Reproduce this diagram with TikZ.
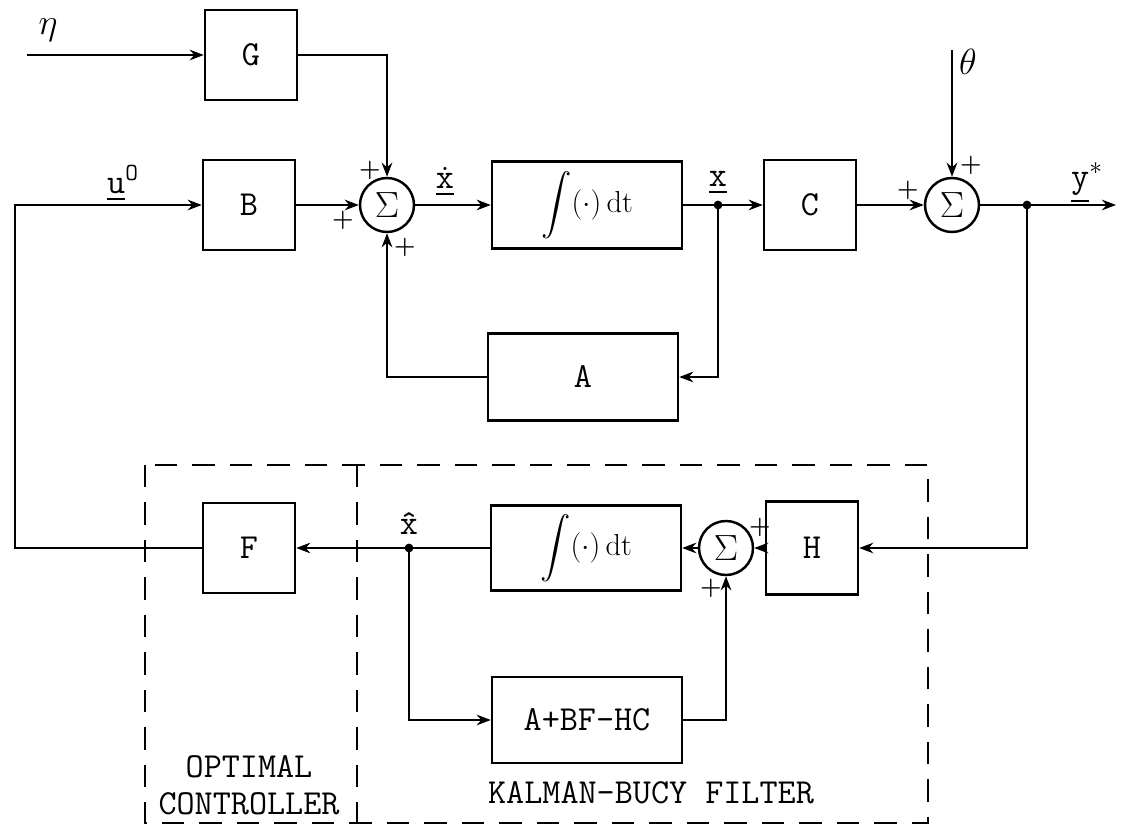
\documentclass[tikz,border=0pt]{standalone}
\usepackage{amsmath}
\usetikzlibrary{arrows.meta, positioning}

\begin{document}
\begin{tikzpicture}[
    x=0.02cm, y=-0.02cm,
    blk/.style={draw, line width=1.4pt, minimum width=1.84cm, minimum height=1.8cm, font=\fontsize{20}{22}\selectfont\ttfamily},
    wide/.style={blk, minimum width=3.8cm, minimum height=1.74cm},
    intg/.style={wide, font=\fontsize{16}{18}\selectfont},
    sum/.style={draw, circle, line width=1.4pt, minimum size=1.08cm, inner sep=0pt, font=\fontsize{22}{24}\selectfont},
    arr/.style={-{Stealth[length=8pt, width=6pt]}, line width=1.4pt},
    ln/.style={line width=1.4pt},
    sgn/.style={font=\fontsize{14}{14}\selectfont\bfseries, inner sep=0pt},
    lbl/.style={font=\fontsize{20}{21}\selectfont\ttfamily, inner sep=1pt},
    grp/.style={line width=1.5pt, dash pattern=on 0.45cm off 0.3cm}
]
\useasboundingbox (0,0) rectangle (1123,827);

% plant
\node[blk] (G) at (251,55) {G};
\node[blk] (B) at (249,205) {B};
\node[sum] (s1) at (387,205) {$\Sigma$};
\node[intg] (int1) at (587,205) {$\displaystyle\int(\cdot)\,\mathrm{dt}$};
\node[blk] (C) at (810,205) {C};
\node[sum] (s2) at (952,205) {$\Sigma$};
\node[wide] (A) at (583,377) {A};

% controller and filter
\node[blk] (F) at (249,548) {F};
\node[intg, minimum height=1.7cm] (int2) at (586,548) {$\displaystyle\int(\cdot)\,\mathrm{dt}$};
\node[sum] (s3) at (726,548) {$\Sigma$};
\node[blk, minimum height=1.86cm] (H) at (812,548) {H};
\node[wide, minimum height=1.72cm] (kf) at (587,720) {A+BF-HC};

\coordinate (etain) at (27,55);
\coordinate (thin) at (952,50);
\coordinate (yout) at (1116,205);
\coordinate (ul) at (15,205);
\coordinate (xj) at (718,205);
\coordinate (yj) at (1027,205);
\coordinate (xh) at (409,548);

\draw[arr] (etain) -- (G);
\draw[arr] (G.east) -| (s1.north);
\draw[arr] (F.west) -| (ul) -- (B.west);
\draw[arr] (B) -- (s1);
\draw[arr] (s1) -- (int1);
\draw[ln] (int1) -- (xj);
\draw[arr] (xj) -- (C);
\draw[arr] (xj) |- (A.east);
\draw[arr] (A.west) -| (s1.south);
\draw[arr] (C) -- (s2);
\draw[arr] (thin) -- (s2);
\draw[ln] (s2) -- (yj);
\draw[arr] (yj) -- (yout);
\draw[arr] (yj) |- (H.east);
\draw[arr] (H) -- (s3);
\draw[arr] (s3) -- (int2);
\draw[ln] (int2) -- (xh);
\draw[arr] (xh) -- (F);
\draw[arr] (xh) |- (kf.west);
\draw[arr] (kf.east) -| (s3.south);

\fill (xj) circle (2.5pt);
\fill (yj) circle (2.5pt);
\fill (xh) circle (2.5pt);

% signs
\node[sgn] (p1a) at (370,170) {+};
\node[sgn] (p1b) at (343,220) {+};
\node[sgn] (p1c) at (405,247) {+};
\node[sgn] (p2a) at (908,190) {+};
\node[sgn] (p2b) at (971,165) {+};
\node[sgn] (p3a) at (760,527) {+};
\node[sgn] (p3b) at (711,588) {+};

% signal labels
\node[lbl] (etalbl) at (48,30) {$\eta$};
\node[lbl] (ulbl) at (123,183) {\underline{u}\textsuperscript{O}};
\node[lbl] (xdlbl) at (445,182) {\underline{\.{x}}};
\node[lbl] (xlbl) at (718,183) {\underline{x}};
\node[lbl] (thlbl) at (968,62) {$\theta$};
\node[lbl] (ylbl) at (1087,183) {\underline{y}$^{*}$};
\node[lbl] (xhlbl) at (409,524) {\^{x}};

% groups
\draw[grp] (145,465) rectangle (928,823);
\draw[grp] (357,465) -- (357,823);
\node[lbl, align=center] (ocl) at (249,785) {OPTIMAL\\CONTROLLER};
\node[lbl] (kfl) at (651,793) {KALMAN-BUCY FILTER};
\end{tikzpicture}
\end{document}
